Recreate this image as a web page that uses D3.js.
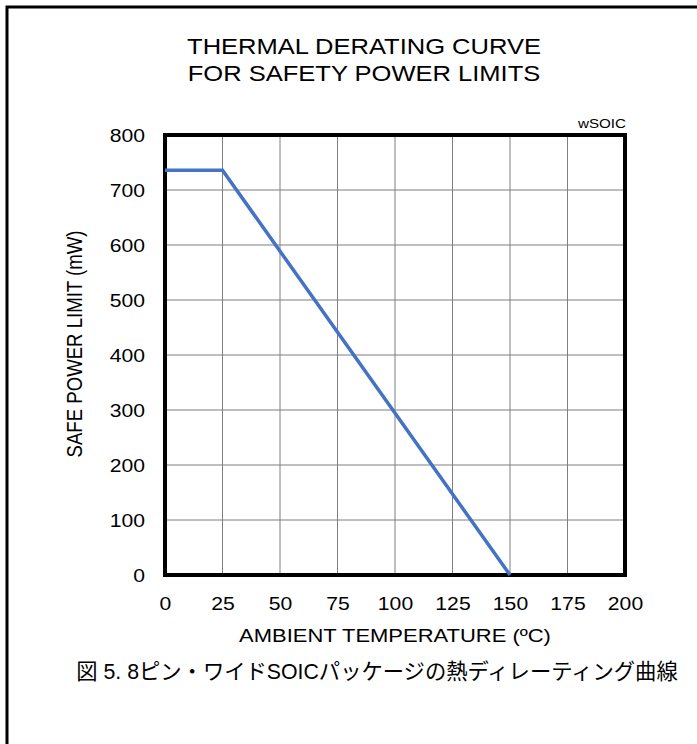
<!DOCTYPE html>
<html>
<head>
<meta charset="utf-8">
<script src="https://cdn.jsdelivr.net/npm/d3@7"></script>
<style>
  html, body { margin: 0; padding: 0; background: #fff; }
  svg { display: block; }
  text { font-family: "Liberation Sans", Arial, sans-serif; fill: #000; }
</style>
</head>
<body>
<svg id="chart" width="697" height="744"></svg>
<script>
// Safe power limit vs ambient temperature (wide SOIC package)
const temps = [0, 25, 150];
const power = [736, 736, 0];
const xTicks = [0, 25, 50, 75, 100, 125, 150, 175, 200];
const yTicks = [0, 100, 200, 300, 400, 500, 600, 700, 800];
const titleLines = ["THERMAL DERATING CURVE", "FOR SAFETY POWER LIMITS"];
const xLabel = "AMBIENT TEMPERATURE (ºC)";
const yLabel = "SAFE POWER LIMIT (mW)";
const packageTag = "wSOIC";
const caption = "図 5. 8ピン・ワイドSOICパッケージの熱ディレーティング曲線";

const svg = d3.select("#chart");
const W = 697, H = 744;
const plot = { left: 165, right: 625, top: 135, bottom: 575 };
const wide = 1.15; // horizontal stretch of the Latin lettering

// outer frame (left and top edges)
svg.append("path")
  .attr("d", `M7,${H} L7,7 L${W},7`)
  .attr("fill", "none").attr("stroke", "#000").attr("stroke-width", 3);

const x = d3.scaleLinear().domain([0, 200]).range([plot.left, plot.right]);
const y = d3.scaleLinear().domain([0, 800]).range([plot.bottom, plot.top]);

// title
svg.append("text")
  .attr("transform", `translate(364,0) scale(${wide},1)`)
  .attr("text-anchor", "middle")
  .attr("font-size", 22.2)
  .selectAll("tspan").data(titleLines).join("tspan")
  .attr("x", 0).attr("y", (d, i) => 54 + i * 27)
  .text(d => d);

// grid
const g = svg.append("g");
g.selectAll("line.vx").data(xTicks).join("line")
  .attr("x1", d => x(d)).attr("x2", d => x(d))
  .attr("y1", plot.top).attr("y2", plot.bottom)
  .attr("stroke", "#7f7f7f").attr("stroke-width", 1);
g.selectAll("line.hy").data(yTicks).join("line")
  .attr("y1", d => y(d)).attr("y2", d => y(d))
  .attr("x1", plot.left).attr("x2", plot.right)
  .attr("stroke", "#7f7f7f").attr("stroke-width", 1);

// tick labels via d3 axes (no tick lines or domain)
const xAxis = svg.append("g")
  .attr("transform", `translate(0,${plot.bottom})`)
  .call(d3.axisBottom(x).tickValues(xTicks).tickSize(0).tickPadding(0));
xAxis.select(".domain").remove();
xAxis.selectAll("text")
  .attr("font-size", 18.4).attr("font-family", "Liberation Sans, Arial, sans-serif")
  .attr("fill", "#000").attr("dy", null).attr("y", 35)
  .attr("transform", `scale(${wide},1)`);

const yAxis = svg.append("g")
  .attr("transform", `translate(${plot.left},0)`)
  .call(d3.axisLeft(y).tickValues(yTicks).tickSize(0).tickPadding(0));
yAxis.select(".domain").remove();
yAxis.selectAll("text")
  .attr("font-size", 18.4).attr("font-family", "Liberation Sans, Arial, sans-serif")
  .attr("fill", "#000").attr("x", -20 / wide).attr("dy", "0.35em")
  .attr("transform", `scale(${wide},1)`);

// plot border
svg.append("rect")
  .attr("x", plot.left).attr("y", plot.top)
  .attr("width", plot.right - plot.left).attr("height", plot.bottom - plot.top)
  .attr("fill", "none").attr("stroke", "#000").attr("stroke-width", 4);

// derating curve
const pts = temps.map((t, i) => [t, power[i]]);
svg.append("path")
  .datum(pts)
  .attr("d", d3.line().x(d => x(d[0])).y(d => y(d[1])))
  .attr("fill", "none").attr("stroke", "#4472c4").attr("stroke-width", 3.5);

// package tag
svg.append("text")
  .attr("transform", `translate(${plot.right + 1},128) scale(${wide},1)`)
  .attr("text-anchor", "end")
  .attr("font-size", 13.2).text(packageTag);

// axis titles
svg.append("text")
  .attr("transform", `translate(${(plot.left + plot.right) / 2},642) scale(${wide},1)`)
  .attr("text-anchor", "middle").attr("font-size", 19.1).text(xLabel);

svg.append("text")
  .attr("transform", `translate(82,344) scale(${wide},1) rotate(-90)`)
  .attr("text-anchor", "middle").attr("font-size", 18.6).text(yLabel);

// caption
svg.append("text")
  .attr("x", 377).attr("y", 679).attr("text-anchor", "middle")
  .attr("font-size", 21.3)
  .style("font-family", "'Liberation Sans', 'Noto Sans CJK JP', sans-serif")
  .text(caption);
</script>
</body>
</html>
